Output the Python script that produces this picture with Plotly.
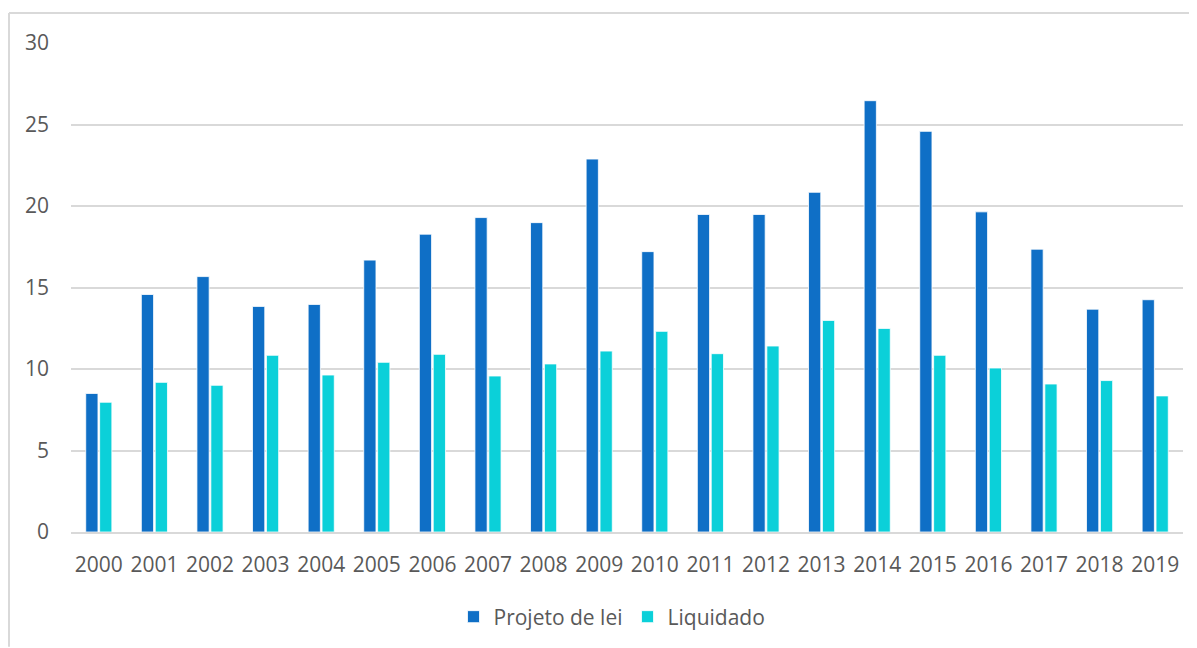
import plotly.graph_objects as go

years = [str(y) for y in range(2000, 2020)]
projeto = [8.5, 14.57, 15.67, 13.84, 13.96, 16.68, 18.27, 19.29, 18.98, 22.88,
           17.2, 19.48, 19.48, 20.84, 26.46, 24.58, 19.64, 17.35, 13.67, 14.25]
liquidado = [7.96, 9.18, 9.0, 10.84, 9.63, 10.41, 10.9, 9.57, 10.31, 11.1,
             12.31, 10.94, 11.41, 12.98, 12.49, 10.84, 10.06, 9.08, 9.29, 8.35]

TXT = "#595959"
FS = 21
fig = go.Figure()
fig.add_trace(go.Bar(x=years, y=projeto, name="Projeto de lei",
                     marker=dict(color="#0F6FC6", line=dict(color="white", width=0.8))))
fig.add_trace(go.Bar(x=years, y=liquidado, name="Liquidado",
                     marker=dict(color="#0BD0D9", line=dict(color="white", width=0.8))))

# page body has an 8px margin; figure origin is at screen (8, 8)
OFF = 8
W, H = 1197 - OFF, 648 - OFF
# target plot area in screen px: left 71, right 1183, top 43, bottom 533
sl, sr, st, sb = 71, 1183, 43, 533
ml = sl - OFF
mt = st - OFF
mr = W - (sr - OFF)
mb = H - (sb - OFF)
pw, ph = sr - sl, sb - st

def px_x(px):
    return (px - sl) / pw

def px_y(py):
    return (sb - py) / ph

fig.update_layout(
    width=W, height=H,
    margin=dict(l=ml, r=mr, t=mt, b=mb),
    paper_bgcolor="white", plot_bgcolor="white",
    barmode="group", bargap=0.5, bargroupgap=0.12,
    font=dict(family="Open Sans, Noto Sans, sans-serif", size=FS, color=TXT),
    legend=dict(orientation="h", x=px_x(612), xanchor="center", y=px_y(617), yanchor="middle",
                font=dict(size=FS, color=TXT)),
    xaxis=dict(showgrid=False, showline=True, linecolor="#D9D9D9", linewidth=1.5,
               ticks="", ticklabelstandoff=13, tickfont=dict(size=FS, color=TXT)),
    yaxis=dict(range=[0, 30], dtick=5, showgrid=True, gridcolor="#D9D9D9",
               gridwidth=1.5, zeroline=False, ticks="", ticklabelstandoff=21,
               tickfont=dict(size=FS, color=TXT)),
    shapes=[
        dict(type="line", xref="paper", yref="paper",
             x0=px_x(9), x1=px_x(1197), y0=px_y(13), y1=px_y(13),
             line=dict(color="#D9D9D9", width=2)),
        dict(type="line", xref="paper", yref="paper",
             x0=px_x(9), x1=px_x(9), y0=px_y(13), y1=px_y(648),
             line=dict(color="#D9D9D9", width=2)),
    ],
)
fig.write_html("out.html")
